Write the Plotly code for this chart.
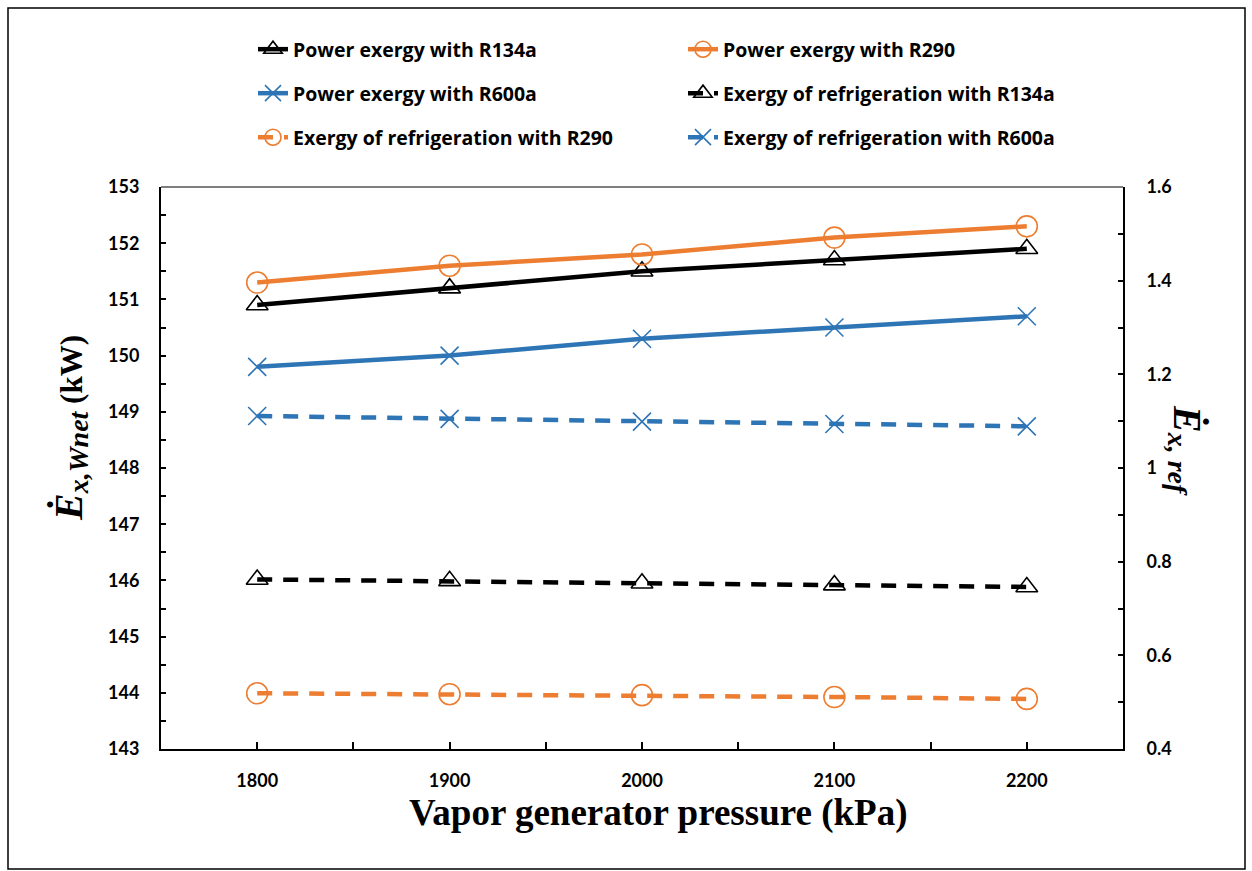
import plotly.graph_objects as go

pressure = [1800, 1900, 2000, 2100, 2200]
power_r134a = [150.9, 151.2, 151.5, 151.7, 151.9]
power_r290 = [151.3, 151.6, 151.8, 152.1, 152.3]
power_r600a = [149.8, 150.0, 150.3, 150.5, 150.7]
ref_r134a = [0.762, 0.759, 0.754, 0.750, 0.746]
ref_r290 = [0.519, 0.517, 0.515, 0.511, 0.507]
ref_r600a = [1.111, 1.105, 1.099, 1.094, 1.089]

BLACK = "#000000"
ORANGE = "#ED7D31"
BLUE = "#2E75B6"

W, H = 1252, 871
L, R, T, B = 161, 129, 187, 122
PW, PH = W - L - R, H - T - B

def px(x):
    return (x - L) / PW

def py(y):
    return (H - B - y) / PH

fig = go.Figure()

DASH = "15px,11px"
series = [
    ("Power exergy with R134a", power_r134a, BLACK, "solid", "triangle-up-open", 19, "y", "legend"),
    ("Power exergy with R290", power_r290, ORANGE, "solid", "circle-open", 21, "y", "legend"),
    ("Power exergy with R600a", power_r600a, BLUE, "solid", "x-thin-open", 18, "y", "legend2"),
    ("Exergy of refrigeration with R134a", ref_r134a, BLACK, DASH, "triangle-up-open", 19, "y2", "legend2"),
    ("Exergy of refrigeration with R290", ref_r290, ORANGE, DASH, "circle-open", 21, "y2", "legend3"),
    ("Exergy of refrigeration with R600a", ref_r600a, BLUE, DASH, "x-thin-open", 18, "y2", "legend3"),
]
for name, vals, col, dash, sym, size, yax, leg in series:
    fig.add_trace(go.Scatter(
        x=pressure, y=vals, name=name, mode="lines+markers",
        line=dict(color=col, width=4.5, dash=dash),
        marker=dict(symbol=sym, size=size, color=col, line=dict(color=col, width=1.6)),
        yaxis=yax, legend=leg,
    ))

tick_font = dict(family="Lato, Arial", size=18, color="black", weight="bold")
leg_font = dict(family="Open Sans, Arial", size=19.5, color="black", weight="bold")

def legend_cfg(ytop):
    return dict(orientation="h", x=px(253), y=py(ytop), xanchor="left", yanchor="top",
                entrywidth=385, entrywidthmode="pixels", font=leg_font,
                bgcolor="rgba(0,0,0,0)", itemwidth=30)

title_font = dict(family="Liberation Serif, Times New Roman", size=28, color="black")

fig.update_layout(
    width=W, height=H,
    margin=dict(l=L, r=R, t=T, b=B),
    paper_bgcolor="white", plot_bgcolor="white",
    showlegend=True,
    legend=legend_cfg(30),
    legend2=legend_cfg(74),
    legend3=legend_cfg(118),
    xaxis=dict(
        range=[1750, 2250], tickvals=pressure, ticktext=[str(p) for p in pressure],
        ticks="inside", ticklen=7, tickwidth=1.5, tickcolor="black",
        minor=dict(dtick=50, tick0=1750, ticks="inside", ticklen=7, tickwidth=1.5, tickcolor="black"),
        showline=True, linecolor="black", linewidth=2, showgrid=False, zeroline=False,
        tickfont=tick_font, ticklabelstandoff=14,
    ),
    yaxis=dict(
        range=[143, 153], dtick=1, ticks="inside", ticklen=5, tickwidth=1.5, tickcolor="black",
        minor=dict(dtick=0.5, ticks="inside", ticklen=5, tickwidth=1.5, tickcolor="black"),
        showline=True, linecolor="black", linewidth=2, showgrid=False, zeroline=False,
        tickfont=tick_font, ticklabelstandoff=16,
    ),
    yaxis2=dict(
        range=[0.4, 1.6], dtick=0.2, overlaying="y", side="right",
        ticks="inside", ticklen=5, tickwidth=1.5, tickcolor="black",
        minor=dict(dtick=0.1, ticks="inside", ticklen=5, tickwidth=1.5, tickcolor="black"),
        showline=True, linecolor="black", linewidth=2, showgrid=False, zeroline=False,
        tickfont=tick_font, ticklabelstandoff=18,
    ),
    shapes=[
        dict(type="line", xref="paper", yref="paper", x0=0, x1=1, y0=1, y1=1,
             line=dict(color="black", width=1.2)),
        dict(type="rect", xref="paper", yref="paper", x0=px(8), x1=px(1245), y0=py(869), y1=py(8),
             line=dict(color="black", width=1.5)),
    ],
    annotations=[
        dict(text="<b><i><span style='font-size:40px'>Ė</span></i></b><sub><b><i><span style='font-size:28px'>x,Wnet</span></i></b></sub><b><span style='font-size:31px'> (kW)</span></b>",
             xref="paper", yref="paper",
             x=px(44), y=py(428), textangle=-90, showarrow=False, font=title_font),
        dict(text="<b><i><span style='font-size:40px'>Ė</span></i></b><sub><b><i><span style='font-size:28px'>x, ref</span></i></b></sub>",
             xref="paper", yref="paper",
             x=px(1212), y=py(450), textangle=90, showarrow=False, font=title_font),
        dict(text="<b>Vapor generator pressure (kPa)</b>", xref="paper", yref="paper",
             x=px(658), y=py(836), showarrow=False,
             font=dict(family="Liberation Serif, Times New Roman", size=37, color="black")),
    ],
)

fig.write_html("out.html")
